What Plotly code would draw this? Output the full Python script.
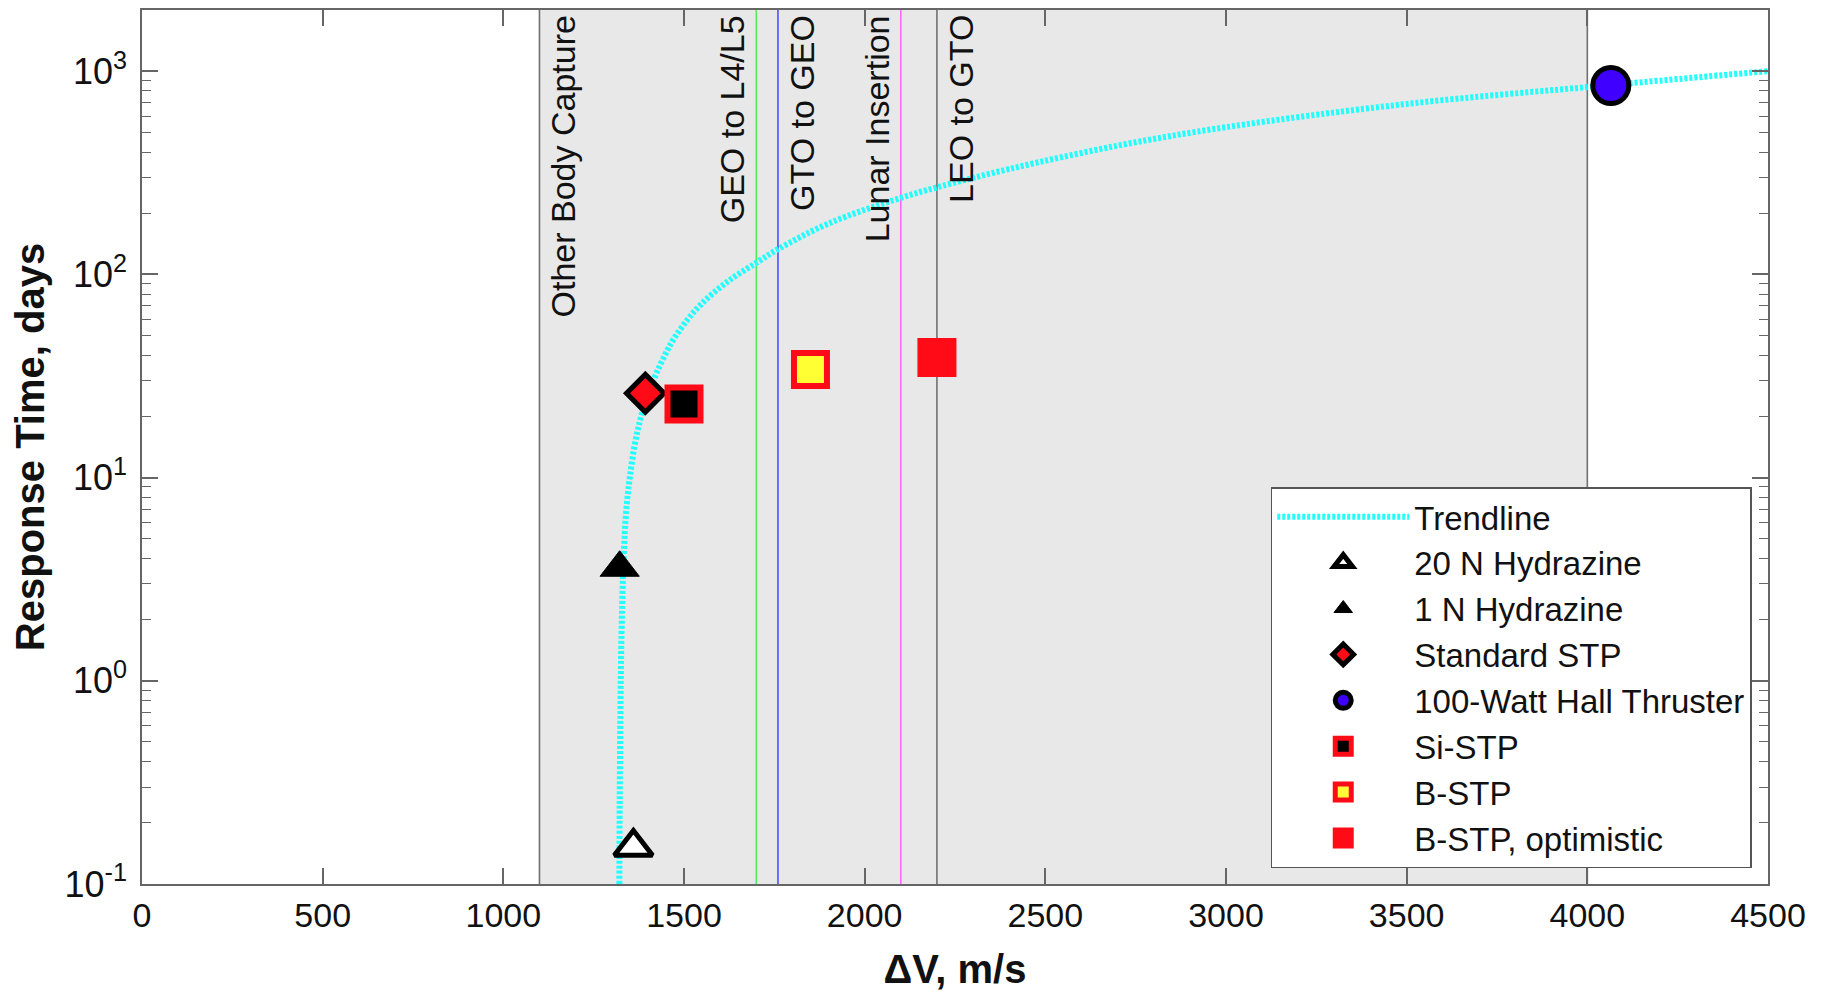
import plotly.graph_objects as go

# ---- data ----
trend_dv = [1321, 1322, 1324, 1327, 1331, 1336, 1342, 1350, 1362, 1378, 1398, 1425, 1465, 1510,
            1550, 1620, 1700, 1760, 1900, 2100, 2200, 2400, 2700, 3000, 3500, 4065, 4500]
trend_days = [0.1, 0.25, 0.7, 1.7, 3.2, 5.3, 7.5, 10, 14, 19, 25, 33, 46, 60,
              72, 92, 114, 133, 178, 238, 268, 330, 430, 530, 690, 855, 1000]

series_names = ["20 N Hydrazine", "1 N Hydrazine", "Standard STP", "100-Watt Hall Thruster",
                "Si-STP", "B-STP", "B-STP, optimistic"]
series_dv = [1360, 1322, 1393, 4065, 1500, 1850, 2200]
series_days = [0.152, 3.6, 26, 850, 23, 34, 39]

region_dv = [1100, 4000]
mission_names = ["Other Body Capture", "GEO to L4/L5", "GTO to GEO", "Lunar Insertion", "LEO to GTO"]
mission_dv = [1100, 1700, 1760, 2100, 2200]

x_ticks = [0, 500, 1000, 1500, 2000, 2500, 3000, 3500, 4000, 4500]
y_tick_exp = [-1, 0, 1, 2, 3]

FONT = "Liberation Sans, Arial, Helvetica, sans-serif"
RED = "#ff0a17"

styles = [
    dict(symbol="triangle-up", size=33, color="white", line=dict(color="black", width=5)),
    dict(symbol="triangle-up", size=34, color="black", line=dict(color="black", width=1)),
    dict(symbol="diamond", size=29, color=RED, line=dict(color="black", width=5)),
    dict(symbol="circle", size=36, color="#4000ff", line=dict(color="black", width=5)),
    dict(symbol="square", size=33, color="black", line=dict(color=RED, width=6)),
    dict(symbol="square", size=33, color="#ffff33", line=dict(color=RED, width=6)),
    dict(symbol="square", size=33, color=RED, line=dict(color=RED, width=6)),
]

fig = go.Figure()
fig.add_trace(go.Scatter(x=trend_dv, y=trend_days, mode="lines", name="Trendline",
                         line=dict(color="#22ffff", width=6, dash="3px,2px", shape="spline")))
for name, xv, yv, st in zip(series_names, series_dv, series_days, styles):
    fig.add_trace(go.Scatter(x=[xv], y=[yv], mode="markers", name=name, marker=st))

# shaded region and mission lines
fig.add_shape(type="rect", xref="x", yref="paper", x0=region_dv[0], x1=region_dv[1], y0=0, y1=1,
              fillcolor="#e8e8e8", line=dict(width=0), layer="below")
line_colors = ["#707070", "#55ee55", "#5050ff", "#ff66ff", "#707070"]
for xv, c in zip(mission_dv + [region_dv[1]], line_colors + ["#707070"]):
    fig.add_shape(type="line", xref="x", yref="paper", x0=xv, x1=xv, y0=0, y1=1,
                  line=dict(color=c, width=1.6), layer="below")

sides = ["left", "right", "left", "right", "left"]
for name, xv, side in zip(mission_names, mission_dv, sides):
    fig.add_annotation(x=xv, y=1, xref="x", yref="paper", text=name, textangle=-90,
                       showarrow=False, xanchor=side, yanchor="top",
                       xshift=3 if side == "left" else -3, yshift=-3,
                       font=dict(family=FONT, size=34, color="#111"))

axis_common = dict(showline=True, linecolor="#666", linewidth=1.6, mirror="ticks",
                   ticks="inside", ticklen=16, tickwidth=1.6, tickcolor="#666",
                   showgrid=False, zeroline=False,
                   tickfont=dict(family=FONT, size=34, color="#111"))

minor_vals = [k * 10.0 ** e for e in range(-1, 4) for k in range(2, 10) if k * 10.0 ** e <= 2000]

fig.update_xaxes(range=[0, 4500], tickvals=x_ticks,
                 title=dict(text="ΔV, m/s", font=dict(family=FONT, size=40, color="#111", weight="bold"),
                            standoff=22),
                 **axis_common)
fig.update_yaxes(type="log", range=[-1, 3.30103],
                 tickvals=[10.0 ** e for e in y_tick_exp],
                 ticktext=["10<sup>%d</sup>" % e for e in y_tick_exp],
                 ticklabelstandoff=6,
                 tickfont=dict(family=FONT, size=36, color="#111"),
                 minor=dict(ticks="inside", ticklen=9, tickwidth=1.4, tickcolor="#666",
                            tickvals=minor_vals, showgrid=False),
                 title=dict(text="Response Time, days",
                            font=dict(family=FONT, size=40, color="#111", weight="bold"), standoff=8),
                 **{k: v for k, v in axis_common.items() if k != "tickfont"})

fig.update_layout(
    width=1824, height=994,
    margin=dict(l=142, r=56, t=8, b=110, pad=0),
    paper_bgcolor="white", plot_bgcolor="white",
    font=dict(family=FONT, size=34, color="#111"),
    legend=dict(x=0.990, y=0.018, xanchor="right", yanchor="bottom",
                bgcolor="white", bordercolor="#555", borderwidth=1.5,
                font=dict(family=FONT, size=33, color="#111"),
                itemwidth=132, tracegroupgap=0),
    showlegend=True,
)

fig.write_html("out.html")
